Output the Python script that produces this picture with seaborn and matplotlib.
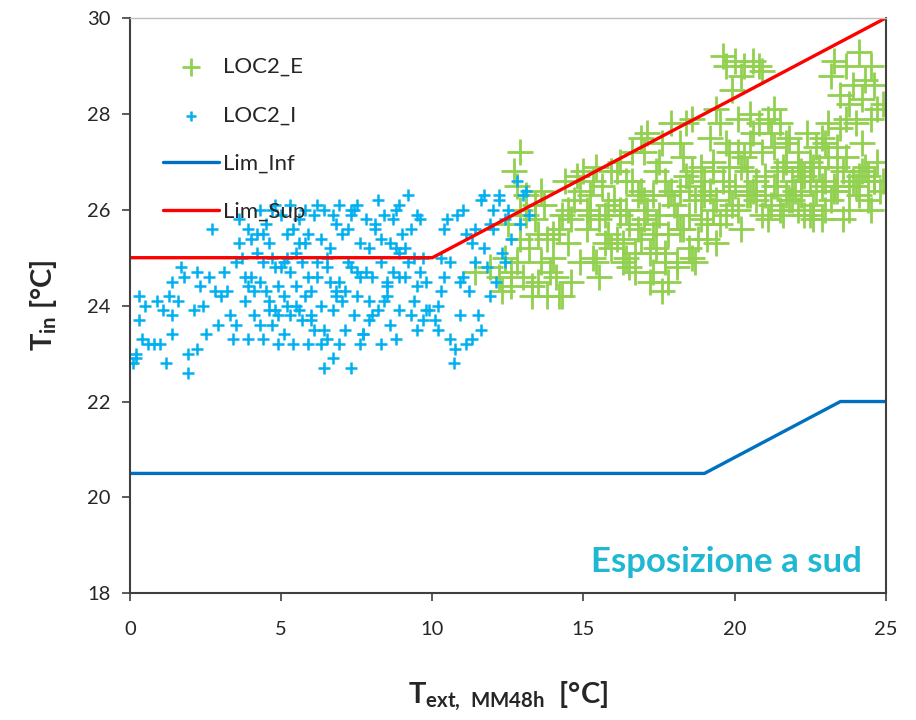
import matplotlib
matplotlib.use('Agg')
import matplotlib.pyplot as plt
import seaborn as sns

sns.set_style('ticks')
plt.rcParams['font.family'] = ['Lato', 'DejaVu Sans']
plt.rcParams['mathtext.fontset'] = 'custom'
plt.rcParams['mathtext.rm'] = 'Lato'
plt.rcParams['mathtext.bf'] = 'Lato:bold'

# LOC2_I (interno)
loc2i_x = [0.1, 0.2, 0.3, 0.3, 0.5, 0.6, 0.2, 0.8, 1.0, 0.9, 0.4,
           1.2, 1.3, 1.4, 1.4, 1.4, 1.8, 1.9, 1.9, 1.6, 1.7, 1.1,
           2.2, 2.2, 2.7, 2.4, 2.9, 2.6, 2.1, 2.8, 2.5, 2.3,
           3.1, 3.2, 3.4, 3.5, 3.6, 3.8, 3.9, 3.3, 3.7, 3.0, 3.5, 3.9, 3.8,
           4.1, 4.2, 4.3, 4.3, 4.4, 4.5, 4.6, 4.6, 4.7, 4.8, 4.8, 4.9, 4.0, 4.2, 4.5, 4.7, 4.9, 4.4,
           5.0, 5.1, 5.1, 5.2, 5.3, 5.3, 5.4, 5.5, 5.5, 5.6, 5.7, 5.7, 5.8, 5.9, 5.9, 5.2, 5.4, 5.6, 5.8, 5.0,
           6.0, 6.1, 6.1, 6.2, 6.3, 6.3, 6.4, 6.4, 6.5, 6.6, 6.6, 6.7, 6.8, 6.8, 6.9, 6.9, 6.2, 6.5, 6.7, 6.0,
           7.0, 7.1, 7.1, 7.3, 7.3, 7.3, 7.4, 7.5, 7.5, 7.6, 7.7, 7.8, 7.8, 7.9, 7.2, 7.6, 7.9, 7.4,
           8.0, 8.1, 8.2, 8.3, 8.3, 8.4, 8.5, 8.6, 8.6, 8.7, 8.8, 8.9, 8.9, 8.2, 8.5, 8.8,
           9.0, 9.1, 9.2, 9.3, 9.4, 9.5, 9.6, 9.7, 9.8, 9.9, 8.9, 9.4, 9.7, 9.5, 9.2,
           10.1, 10.2, 10.3, 10.4, 10.5, 10.6, 10.7, 10.8, 10.9, 10.2, 10.6, 10.75, 10.9, 10.4,
           11.0, 11.1, 11.2, 11.3, 11.5, 11.6, 11.3, 11.7, 11.8, 11.9, 11.4, 11.6, 11.9, 11.1,
           12.0, 12.1, 12.2, 12.3, 12.4, 12.5, 12.6, 12.8, 12.9, 12.2, 12.4, 13.0, 11.7, 13.1, 13.2,
           3.6, 4.1, 4.4, 4.8, 5.2, 5.5, 5.9, 6.2, 6.5, 6.9, 7.2, 7.6, 7.9, 8.3, 8.7, 9.1, 9.5,
           3.9, 4.3, 4.7, 4.9, 5.1, 5.6, 6.0, 6.4, 6.8, 7.3, 7.7, 8.1, 8.5, 8.9, 9.3, 9.8,
           4.0, 4.6, 5.3, 5.8, 6.3, 6.7, 7.0, 7.5, 8.0, 8.4, 8.8, 9.6, 10.3, 11.0, 11.4, 12.0]
loc2i_y = [22.8, 22.9, 24.2, 23.7, 24.0, 23.2, 23.0, 23.2, 23.2, 24.1, 23.3,
           22.8, 24.2, 24.5, 23.8, 23.4, 24.6, 23.0, 22.6, 24.1, 24.8, 23.9,
           24.7, 23.1, 25.6, 24.0, 23.6, 24.6, 23.9, 24.3, 23.4, 24.4,
           24.7, 24.3, 23.3, 24.9, 25.3, 24.6, 23.3, 23.8, 25.0, 24.2, 23.6, 25.6, 24.1,
           23.8, 25.1, 26.0, 24.5, 23.3, 25.7, 24.1, 25.3, 23.6, 24.8, 26.1, 23.2, 24.6, 25.5, 24.3, 25.0, 24.4, 24.9,
           25.9, 24.2, 23.4, 25.5, 26.1, 24.7, 23.2, 25.1, 24.4, 25.8, 23.7, 24.9, 26.0, 23.2, 24.6, 24.0, 25.6, 23.9, 25.3, 24.8,
           24.3, 25.9, 23.5, 24.9, 23.2, 25.4, 22.7, 26.0, 23.3, 25.2, 24.5, 23.9, 25.7, 24.2, 26.1, 23.2, 24.6, 25.0, 22.9, 23.8,
           25.5, 24.3, 23.5, 22.7, 25.9, 24.8, 23.8, 26.1, 24.2, 25.3, 23.4, 24.7, 25.8, 24.1, 24.9, 23.2, 25.2, 26.0,
           24.6, 25.6, 23.9, 24.9, 23.2, 25.9, 24.2, 25.3, 23.6, 24.7, 26.0, 23.9, 25.1, 26.2, 24.4, 23.3,
           25.5, 24.6, 26.3, 23.8, 25.0, 24.4, 25.8, 23.7, 24.5, 23.9, 26.1, 24.1, 25.0, 23.5, 24.9,
           23.7, 24.0, 25.0, 24.6, 25.8, 23.3, 22.8, 25.9, 24.5, 23.5, 24.9, 23.1, 23.8, 25.6,
           26.0, 23.2, 24.3, 23.3, 23.8, 23.5, 25.3, 25.2, 24.8, 25.7, 24.9, 26.2, 24.2, 25.5,
           25.6, 24.5, 26.2, 25.1, 24.9, 26.0, 25.4, 26.6, 25.7, 26.3, 25.8, 26.3, 26.3, 26.4, 25.9,
           25.8, 24.3, 25.5, 23.9, 25.0, 24.0, 25.5, 26.1, 24.8, 24.5, 25.6, 24.6, 23.7, 25.4, 25.8, 25.2, 25.9,
           24.4, 23.6, 26.0, 23.8, 24.9, 25.3, 23.7, 23.5, 24.3, 26.0, 23.4, 25.7, 24.5, 24.6, 25.6, 23.9,
           25.4, 23.9, 23.8, 24.2, 24.0, 25.9, 24.1, 24.7, 23.8, 24.1, 25.2, 24.7, 24.3, 24.6, 25.6, 26.0]

# LOC2_E (esterno)
loc2e_x = [11.4, 11.9, 12.2, 12.4, 12.6, 12.8, 12.9, 12.9, 12.7, 12.9, 12.5, 12.8, 12.3, 12.6,
           13.0, 13.1, 13.2, 13.3, 13.4, 13.5, 13.6, 13.7, 13.8, 13.9, 13.3, 13.5, 13.8, 13.1, 13.6,
           14.0, 14.1, 14.2, 14.3, 14.4, 14.5, 14.6, 14.7, 14.8, 14.9, 14.2, 14.5, 14.3, 14.9,
           15.0, 15.1, 15.2, 15.3, 15.4, 15.5, 15.6, 15.7, 15.8, 15.9, 15.1, 15.4, 15.7, 15.3, 15.9, 15.5,
           16.0, 16.1, 16.2, 16.3, 16.4, 16.5, 16.6, 16.7, 16.8, 16.9, 16.2, 16.5, 16.8, 16.1, 16.4, 16.7, 16.9, 16.3,
           17.0, 17.1, 17.2, 17.3, 17.4, 17.5, 17.6, 17.7, 17.8, 17.9, 17.1, 17.3, 17.5, 17.7, 17.9, 17.2, 17.6, 17.4, 17.8, 17.0,
           18.0, 18.1, 18.2, 18.3, 18.4, 18.5, 18.6, 18.7, 18.8, 18.9, 18.1, 18.3, 18.5, 18.7, 18.9, 18.2, 18.6, 18.4,
           19.0, 19.1, 19.2, 19.3, 19.4, 19.5, 19.6, 19.7, 19.8, 19.9, 19.1, 19.3, 19.5, 19.7, 19.9, 19.2, 19.6, 19.4, 19.8,
           20.0, 20.1, 20.2, 20.3, 20.4, 20.5, 20.6, 20.7, 20.8, 20.9, 20.1, 20.3, 20.5, 20.7, 20.9, 20.2, 20.6, 20.4, 20.8, 20.0,
           21.0, 21.1, 21.2, 21.3, 21.4, 21.5, 21.6, 21.7, 21.8, 21.9, 21.1, 21.3, 21.5, 21.7, 21.9, 21.2, 21.6,
           22.0, 22.1, 22.2, 22.3, 22.4, 22.5, 22.6, 22.7, 22.8, 22.9, 22.1, 22.3, 22.5, 22.7, 22.9, 22.2, 22.6,
           23.0, 23.1, 23.2, 23.3, 23.4, 23.5, 23.6, 23.7, 23.8, 23.9, 23.1, 23.3, 23.5, 23.7, 23.9, 23.2, 23.6, 23.4, 23.8, 23.0,
           24.0, 24.1, 24.2, 24.3, 24.4, 24.5, 24.6, 24.7, 24.8, 24.9, 24.1, 24.3, 24.5, 24.7, 24.2, 24.4, 24.0, 24.6,
           16.2, 16.6, 17.0, 17.4, 17.8, 18.2, 18.6, 19.0, 19.4, 19.8, 20.2, 20.6, 21.0, 21.4, 21.8, 22.2, 22.6, 23.0, 23.4, 23.8, 24.2, 24.6,
           16.4, 16.9, 17.3, 17.7, 18.1, 18.5, 18.9, 19.3, 19.7, 20.1, 20.5, 20.9, 21.3, 21.7, 22.1, 22.5, 22.9, 23.3, 23.7, 24.1, 24.5, 24.9,
           13.4, 14.0, 14.6, 15.2, 15.8]
loc2e_y = [24.7, 24.8, 24.6, 25.0, 24.4, 24.9, 25.4, 26.0, 26.8, 27.2, 25.7, 26.5, 24.3, 24.7,
           24.6, 26.3, 25.2, 24.2, 25.8, 24.5, 24.9, 26.1, 25.4, 24.7, 24.4, 25.5, 24.2, 25.9, 26.4,
           25.0, 24.6, 24.2, 25.9, 26.6, 25.3, 24.5, 26.2, 26.7, 24.9, 25.6, 26.0, 24.2, 26.4,
           26.8, 25.6, 26.3, 25.0, 26.9, 25.8, 26.5, 25.3, 26.1, 26.8, 26.0, 24.9, 25.9, 26.6, 25.2, 24.6,
           26.2, 25.4, 27.0, 24.9, 26.6, 25.7, 27.2, 25.1, 26.3, 27.5, 25.9, 24.8, 25.6, 26.8, 26.0, 24.7, 26.4, 25.3,
           25.8, 27.6, 24.5, 26.3, 25.2, 27.0, 24.3, 26.6, 25.5, 27.8, 26.0, 24.7, 25.9, 24.9, 26.4, 25.1, 27.4, 26.8, 24.5, 27.2,
           26.1, 24.8, 27.4, 25.6, 26.7, 25.2, 27.9, 26.2, 25.4, 26.9, 25.9, 27.1, 26.5, 24.9, 25.8, 26.4, 25.0, 27.8,
           26.3, 25.4, 27.5, 26.0, 28.1, 25.7, 26.6, 29.0, 27.2, 26.1, 25.7, 26.8, 27.8, 25.9, 28.5, 26.4, 29.2, 25.3, 26.9,
           26.5, 27.9, 25.6, 29.0, 26.8, 27.4, 29.1, 26.2, 27.8, 28.9, 26.0, 27.1, 28.0, 26.6, 25.9, 28.8, 27.6, 26.3, 29.0, 29.1,
           26.7, 27.9, 26.1, 27.3, 26.5, 27.8, 26.9, 26.3, 27.5, 26.6, 25.8, 28.1, 26.0, 27.0, 26.2, 27.6, 25.9,
           26.4, 27.2, 26.8, 25.9, 27.6, 26.6, 26.1, 27.3, 26.9, 25.8, 26.0, 26.7, 27.0, 26.4, 27.5, 26.3, 25.8,
           26.6, 27.8, 26.2, 29.1, 27.3, 28.4, 26.8, 29.0, 26.0, 28.6, 27.1, 26.4, 27.7, 27.9, 26.6, 28.8, 25.8, 26.9, 28.2, 27.4,
           26.5, 29.3, 27.4, 28.7, 26.7, 27.9, 26.6, 28.1, 26.4, 28.2, 26.3, 26.9, 29.0, 27.0, 28.3, 26.2, 27.8, 28.6,
           26.0, 26.6, 26.2, 25.7, 26.3, 25.6, 26.8, 26.6, 26.2, 26.4, 26.9, 26.4, 26.3, 26.8, 26.2, 26.6, 26.9, 26.0, 26.4, 26.5, 26.8, 26.6,
           25.0, 25.4, 25.5, 25.1, 24.9, 25.9, 26.3, 27.0, 27.4, 27.2, 26.3, 27.2, 26.5, 27.4, 26.9, 25.9, 26.5, 26.5, 27.1, 26.7, 26.0, 26.6,
           26.1, 25.5, 25.8, 25.9, 25.5]

# limiti
lim_inf_x = [0, 19, 23.5, 25]
lim_inf_y = [20.5, 20.5, 22, 22]
lim_sup_x = [0, 10, 25]
lim_sup_y = [25, 25, 30]

fig = plt.figure(figsize=(9.16, 7.2), dpi=100)
ax = fig.add_axes([0.142, 0.176, 0.825, 0.799])

sns.scatterplot(x=loc2e_x, y=loc2e_y, marker='+', s=330, color='#92D050',
                linewidth=2.0, label='LOC2_E', ax=ax)
sns.scatterplot(x=loc2i_x, y=loc2i_y, marker='+', s=70, color='#00B0F0',
                linewidth=1.8, label='LOC2_I', ax=ax)
sns.lineplot(x=lim_inf_x, y=lim_inf_y, color='#0070C0', lw=2.4, label='Lim_Inf', ax=ax)
sns.lineplot(x=lim_sup_x, y=lim_sup_y, color='#FF0000', lw=2.4, label='Lim_Sup', ax=ax)

ax.set_xlim(0, 25)
ax.set_ylim(18, 30)
ax.set_xticks([0, 5, 10, 15, 20, 25])
ax.set_yticks([18, 20, 22, 24, 26, 28, 30])
ax.tick_params(direction='out', length=6, width=1.2, color='#404040',
               labelsize=14.5, labelcolor='#262626')
ax.tick_params(axis='x', pad=14)
ax.tick_params(axis='y', pad=8)

for s in ['left', 'bottom', 'right']:
    ax.spines[s].set_color('#404040')
    ax.spines[s].set_linewidth(1.5)
ax.spines['top'].set_color('#BFBFBF')
ax.spines['top'].set_linewidth(1)

ax.set_xlabel(r'$\mathbf{T_{ext,\ MM48h}}$  [°C]', fontsize=21, fontweight='bold', labelpad=30)
ax.set_ylabel(r'$\mathbf{T_{in}}$ [°C]', fontsize=21, fontweight='bold', labelpad=20)

leg = ax.legend(loc='upper left', bbox_to_anchor=(0.044, 0.932), frameon=False,
                borderaxespad=0, borderpad=0, handlelength=2.5, handletextpad=0.2,
                labelspacing=1.27, fontsize=16)
leg.legend_handles[0].set_sizes([150])
leg.legend_handles[1].set_sizes([45])

ax.text(0.968, 0.037, 'Esposizione a sud', transform=ax.transAxes, ha='right',
        va='baseline', fontsize=25, fontweight='bold', color='#1FB7D1')

fig.savefig('out.png', dpi=100)
